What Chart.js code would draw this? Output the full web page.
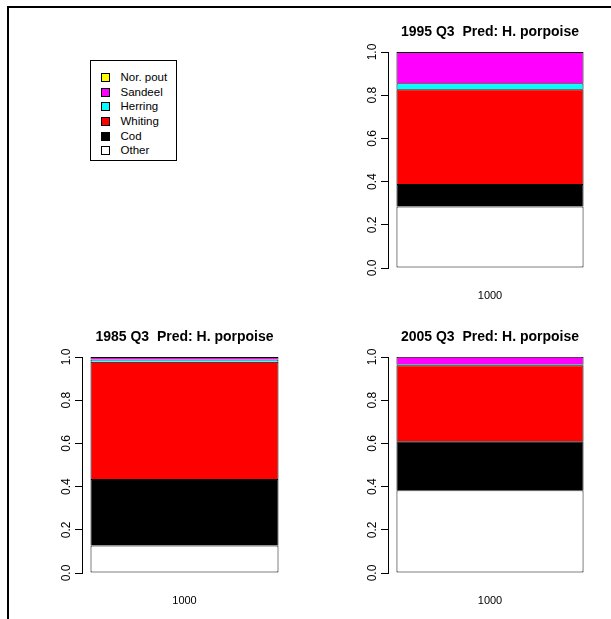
<!DOCTYPE html>
<html>
<head>
<meta charset="utf-8">
<script src="https://cdn.jsdelivr.net/npm/chart.js@4.4.1/dist/chart.umd.min.js"></script>
<style>
  html, body { margin: 0; padding: 0; background: #fff; overflow: hidden; }
  body { width: 611px; height: 619px; position: relative; font-family: "Liberation Sans", Arial, sans-serif; }
  #frame { position: absolute; left: 7px; top: 6px; width: 604px; height: 613px; border-top: 2px solid #000; border-left: 2px solid #000; box-sizing: border-box; }
  canvas { position: absolute; }
  #legend { position: absolute; left: 90px; top: 60px; width: 87px; height: 101px; border: 1px solid #000; box-sizing: border-box; padding-top: 9px; font-size: 11.5px; color: #000; }
  .row { height: 14.7px; line-height: 14.7px; position: relative; padding-left: 29.5px; white-space: nowrap; }
  .sw { position: absolute; left: 10px; top: 3px; width: 7px; height: 7px; border: 1px solid #000; }
</style>
</head>
<body>
<div id="frame"></div>
<div id="legend"></div>
<canvas id="c1985" width="280" height="300" style="left:30px;top:315px"></canvas>
<canvas id="c1995" width="271" height="300" style="left:340px;top:10px"></canvas>
<canvas id="c2005" width="271" height="300" style="left:340px;top:315px"></canvas>
<script>
// panels: 1985, 1995, 2005
const panelTitles = ['1985 Q3  Pred: H. porpoise', '1995 Q3  Pred: H. porpoise', '2005 Q3  Pred: H. porpoise'];
const categories = ['1000'];
const yTickLabels = ['0.0', '0.2', '0.4', '0.6', '0.8', '1.0'];

// stacked from the bottom up
const seriesNames = ['Other', 'Cod', 'Whiting', 'Herring', 'Sandeel', 'Nor. pout'];
const seriesColors = ['#ffffff', '#000000', '#ff0000', '#00ffff', '#ff00ff', '#ffff00'];

const other   = [0.127, 0.285, 0.383];
const cod     = [0.308, 0.104, 0.227];
const whiting = [0.543, 0.438, 0.352];
const herring = [0.011, 0.028, 0.004];
const sandeel = [0.011, 0.145, 0.035];
const norPout = [0, 0, 0];
const seriesValues = [other, cod, whiting, herring, sandeel, norPout];

// legend box (top to bottom)
const legend = document.getElementById('legend');
for (let i = seriesNames.length - 1; i >= 0; i--) {
    const row = document.createElement('div');
    row.className = 'row';
    row.innerHTML = '<span class="sw" style="background:' + seriesColors[i] + '"></span>' + seriesNames[i];
    legend.appendChild(row);
}

// layout of each canvas so the plot boxes land where they do in the picture
const panels = [
    { id: 'c1985', axisW: 52, padR: 23, titleTop: 14.2, padB: 2 },
    { id: 'c1995', axisW: 48, padR: 19, titleTop: 14.2, padB: 2 },
    { id: 'c2005', axisW: 48, padR: 19, titleTop: 14.2, padB: 2 }
];

const font = 'Liberation Sans, Arial, sans-serif';

panels.forEach((p, k) => {
    const datasets = seriesNames.map((name, i) => ({
        label: name,
        data: [seriesValues[i][k]],
        backgroundColor: seriesColors[i],
        borderColor: '#000',
        borderWidth: { top: 1, left: 1, right: 1, bottom: i === 0 ? 1 : 0 },
        borderSkipped: false,
        barPercentage: 188 / 205,
        categoryPercentage: 1
    }));

    new Chart(document.getElementById(p.id).getContext('2d'), {
        type: 'bar',
        data: { labels: categories, datasets: datasets },
        options: {
            responsive: false,
            animation: false,
            devicePixelRatio: 1,
            layout: { padding: { left: 0, right: p.padR, top: 0, bottom: p.padB } },
            plugins: {
                legend: { display: false },
                tooltip: { enabled: false },
                title: {
                    display: true,
                    text: panelTitles[k],
                    fullSize: false,
                    color: '#000',
                    font: { family: font, size: 14, weight: 'bold' },
                    padding: { top: p.titleTop, bottom: 11 }
                }
            },
            scales: {
                x: {
                    stacked: true,
                    grid: { display: false, drawTicks: false },
                    border: { display: false },
                    ticks: { color: '#000', font: { family: font, size: 11 }, padding: 21 },
                    afterFit: s => { s.height = 40; }
                },
                y: {
                    stacked: true,
                    min: 0,
                    max: 1,
                    grid: { display: true, drawOnChartArea: false, drawTicks: true, tickLength: 7, color: '#000' },
                    border: { display: true, color: '#000', width: 1 },
                    ticks: {
                        stepSize: 0.2,
                        color: '#000',
                        font: { family: font, size: 12 },
                        minRotation: 90,
                        maxRotation: 90,
                        crossAlign: 'center',
                        padding: 0,
                        callback: (v, i) => yTickLabels[i]
                    },
                    afterFit: s => { s.width = p.axisW; }
                }
            }
        }
    });
});
</script>
</body>
</html>
